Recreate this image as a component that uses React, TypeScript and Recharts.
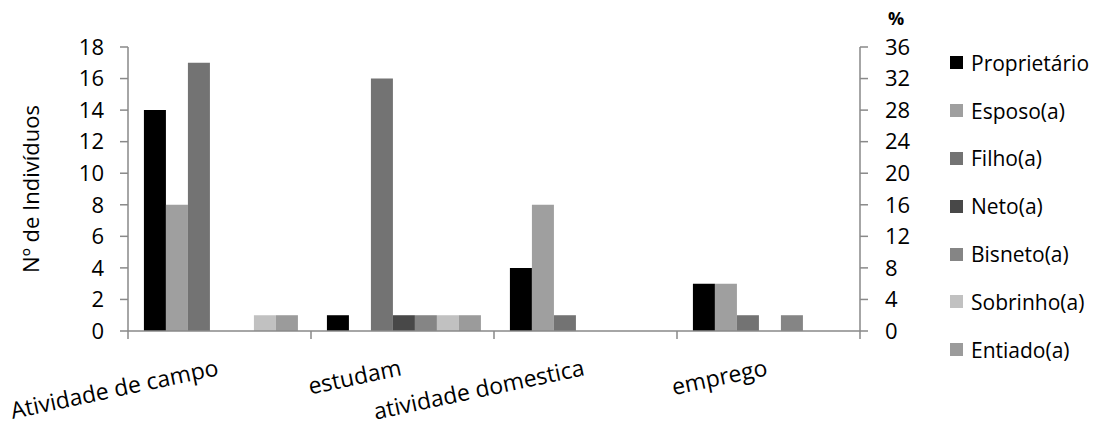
import React from 'react';
import { BarChart, Bar, XAxis, YAxis, Legend, Label } from 'recharts';

// Activities (categories on the x axis)
const categories = ['Atividade de campo', 'estudam', 'atividade domestica', 'emprego'];

// Number of individuals per household role, one value per activity
const proprietario = [14, 1, 4, 3];
const esposo = [8, 0, 8, 3];
const filho = [17, 16, 1, 1];
const neto = [0, 1, 0, 0];
const bisneto = [0, 1, 0, 1];
const sobrinho = [1, 1, 0, 0];
const entiado = [1, 1, 0, 0];

// Axis ticks
const countTicks = [0, 2, 4, 6, 8, 10, 12, 14, 16, 18];
const percentTicks = [0, 4, 8, 12, 16, 20, 24, 28, 32, 36];

const series = [
  { key: 'Proprietário', values: proprietario, color: '#000000' },
  { key: 'Esposo(a)', values: esposo, color: '#9f9f9f' },
  { key: 'Filho(a)', values: filho, color: '#737373' },
  { key: 'Neto(a)', values: neto, color: '#484848' },
  { key: 'Bisneto(a)', values: bisneto, color: '#858585' },
  { key: 'Sobrinho(a)', values: sobrinho, color: '#c1c1c1' },
  { key: 'Entiado(a)', values: entiado, color: '#9b9b9b' },
];

const data = categories.map((name, i) => {
  const row: Record<string, string | number> = { name };
  series.forEach((s) => {
    row[s.key] = s.values[i];
  });
  return row;
});

const FONT = '"Open Sans", sans-serif';
const AXIS = '#898989';

// Category label rotated upward, ending at the band centre, plus tick marks on band edges
const CategoryTick = (props: any) => {
  const { x, y, payload, index, visibleTicksCount } = props;
  const half = payload && payload.offset ? payload.offset : 0;
  const left = x - half;
  const right = x + half;
  const isLast = index === visibleTicksCount - 1;
  return (
    <g>
      <line x1={left} y1={y} x2={left} y2={y + 8} stroke={AXIS} strokeWidth={1.5} />
      {isLast && <line x1={right} y1={y} x2={right} y2={y + 8} stroke={AXIS} strokeWidth={1.5} />}
      <text
        x={x}
        y={y + 44}
        textAnchor="end"
        fontFamily={FONT}
        fontSize={23}
        fill="#000"
        transform={`rotate(-12, ${x}, ${y + 44})`}
      >
        {payload.value}
      </text>
    </g>
  );
};

// Vertical legend in series order
const LegendList = () => (
  <div style={{ fontFamily: FONT, fontSize: 21, color: '#000' }}>
    {series.map((s) => (
      <div key={s.key} style={{ display: 'flex', alignItems: 'center', height: 47.8 }}>
        <span
          style={{
            display: 'inline-block',
            width: 13,
            height: 13,
            background: s.color,
            marginRight: 8,
          }}
        />
        <span>{s.key}</span>
      </div>
    ))}
  </div>
);

const PercentLabel = (props: any) => {
  const vb = props.viewBox || {};
  return (
    <text x={vb.x + 28} y={vb.y - 22} fontFamily={FONT} fontSize={18} fontWeight="bold" fill="#000">
      %
    </text>
  );
};

export default function App() {
  return (
    <div style={{ position: 'absolute', left: 0, top: 0, width: 1109, height: 425, background: '#fff' }}>
      <BarChart
        width={1109}
        height={425}
        data={data}
        margin={{ top: 47, right: 189, left: 0, bottom: 34 }}
        barCategoryGap="8.7%"
        barGap={0}
      >
        <XAxis
          dataKey="name"
          height={60}
          axisLine={{ stroke: AXIS, strokeWidth: 1.5 }}
          tickLine={false}
          tickSize={0}
          tickMargin={0}
          interval={0}
          tick={<CategoryTick />}
        />
        <YAxis
          yAxisId="left"
          width={128}
          domain={[0, 18]}
          ticks={countTicks}
          interval={0}
          axisLine={{ stroke: AXIS, strokeWidth: 1.5 }}
          tickLine={{ stroke: AXIS, strokeWidth: 1.5 }}
          tickSize={8}
          tickMargin={16}
          tick={{ fontFamily: FONT, fontSize: 22, fill: '#000' }}
        >
          <Label
            value="Nº de Indivíduos"
            angle={-90}
            position="insideLeft"
            offset={31}
            style={{ fontFamily: FONT, fontSize: 22, fill: '#000', textAnchor: 'middle' }}
          />
        </YAxis>
        <YAxis
          yAxisId="right"
          orientation="right"
          width={60}
          type="number"
          domain={[0, 36]}
          ticks={percentTicks}
          interval={0}
          allowDataOverflow
          axisLine={{ stroke: AXIS, strokeWidth: 1.5 }}
          tickLine={{ stroke: AXIS, strokeWidth: 1.5 }}
          tickSize={8}
          tickMargin={17}
          tick={{ fontFamily: FONT, fontSize: 22, fill: '#000', textAnchor: 'start' }}
        >
          <Label content={<PercentLabel />} />
        </YAxis>
        <Legend
          layout="horizontal"
          verticalAlign="middle"
          align="center"
          content={<LegendList />}
          wrapperStyle={{ left: 950, top: 39, width: 160, height: 340 }}
        />
        {series.map((s) => (
          <Bar
            key={s.key}
            yAxisId="left"
            dataKey={s.key}
            fill={s.color}
            isAnimationActive={false}
          />
        ))}
      </BarChart>
    </div>
  );
}
